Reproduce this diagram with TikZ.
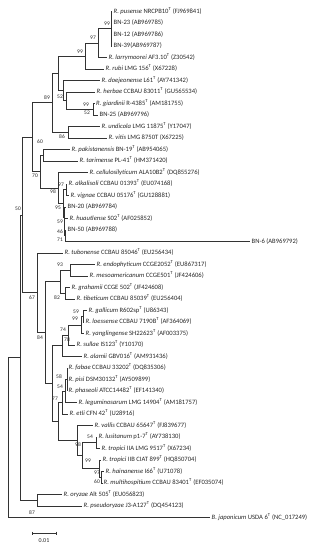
\documentclass[tikz,border=0pt]{standalone}
\usepackage{fontspec}
\setmainfont{Carlito}
\newcommand{\Ty}{\textsuperscript{T}}
\begin{document}
\begin{tikzpicture}[x=1pt,y=-1pt,
  br/.style={draw=black!80,line width=0.75pt},
  leaf/.style={anchor=west,inner xsep=1.5pt,inner ysep=0pt,text height=4.6pt,text depth=1.4pt,font=\fontsize{6.6}{7}\selectfont,text=black!85},
  bs/.style={inner sep=0pt,font=\fontsize{5.5}{6}\selectfont,text=black!85}]
\useasboundingbox (0,0) rectangle (315,550);
% internal nodes
\coordinate (N1) at (111,28.75);
\coordinate (N2) at (98,43.1);
\coordinate (N3) at (85,56.1);
\coordinate (N6) at (93,109.25);
\coordinate (N5) at (66,100.6);
\coordinate (N4) at (63,90.6);
\coordinate (NX) at (58,73.3);
\coordinate (N7) at (68,132.25);
\coordinate (N8) at (52,102.8);
\coordinate (N9) at (43,155.25);
\coordinate (N13) at (66,189.75);
\coordinate (C1) at (65,235.75);
\coordinate (C2) at (64.5,227.1);
\coordinate (C3) at (64,217.1);
\coordinate (C4) at (63,203.4);
\coordinate (N17) at (58,188);
\coordinate (N18) at (40,171.6);
\coordinate (N11) at (32,137.2);
\coordinate (N20) at (70,270.25);
\coordinate (N21) at (65,293.25);
\coordinate (N22) at (60,281.75);
\coordinate (N23) at (83,316.25);
\coordinate (N24) at (81,324.9);
\coordinate (N25) at (68,334.9);
\coordinate (N26) at (62,345.7);
\coordinate (N30) at (67,379.5);
\coordinate (N31) at (65,391);
\coordinate (N32) at (62,402.5);
\coordinate (N34) at (96,442.75);
\coordinate (N36) at (101.5,477.25);
\coordinate (N37) at (99,468.6);
\coordinate (N38) at (82,455.7);
\coordinate (N39) at (77,440.6);
\coordinate (N40) at (58,421.5);
\coordinate (N33) at (52,383.6);
\coordinate (N28) at (45,332.7);
\coordinate (B1) at (37,292.8);
\coordinate (N41) at (37,500.25);
\coordinate (M50) at (22,215);
\coordinate (P) at (20,357.6);
\coordinate (R0) at (8,437.5);
% leaves
\node[leaf] (t0) at (112,11.5) {\textit{R. pusense} NRCPB10\Ty{} (FJ969841)};
\node[leaf] (t1) at (112,23) {BN-23 (AB969785)};
\node[leaf] (t2) at (112,34.5) {BN-12 (AB969786)};
\node[leaf] (t3) at (112,46) {BN-39(AB969787)};
\node[leaf] (t4) at (107,57.5) {\textit{R. larrymoorei} AF3.10\Ty{} (Z30542)};
\node[leaf] (t5) at (104,69) {\textit{R. rubi} LMG 156\Ty{} (X67228)};
\node[leaf] (t6) at (100,80.5) {\textit{R. doejeonense} L61\Ty{} (AY741342)};
\node[leaf] (t7) at (95,92) {\textit{R. herbae} CCBAU 83011\Ty{} (GU565534)};
\node[leaf] (t8) at (94.5,103.5) {\textit{R. giardinii} R-4385\Ty{} (AM181755)};
\node[leaf] (t9) at (98,115) {BN-25 (AB969796)};
\node[leaf] (t10) at (100,126.5) {\textit{R. undicola} LMG 11875\Ty{} (Y17047)};
\node[leaf] (t11) at (107,138) {\textit{R. vitis} LMG 8750T (X67225)};
\node[leaf] (t12) at (70,149.5) {\textit{R. pakistanensis} BN-19\Ty{} (AB954065)};
\node[leaf] (t13) at (78,161) {\textit{R. tarimense} PL-41\Ty{} (HM371420)};
\node[leaf] (t14) at (88,172.5) {\textit{R. cellulosilyticum} ALA10B2\Ty{} (DQ855276)};
\node[leaf] (t15) at (67,184) {\textit{R. alkalisoli} CCBAU 01393\Ty{} (EU074168)};
\node[leaf] (t16) at (69,195.5) {\textit{R. vignae} CCBAU 05176\Ty{} (GU128881)};
\node[leaf] (t17) at (66,207) {BN-20 (AB969784)};
\node[leaf] (t18) at (68,218.5) {\textit{R. huautlense} S02\Ty{} (AF025852)};
\node[leaf] (t19) at (66,230) {BN-50 (AB969788)};
\node[leaf] (t20) at (250,241.5) {BN-6 (AB969792)};
\node[leaf] (t21) at (63,253) {\textit{R. tubonense} CCBAU 85046\Ty{} (EU256434)};
\node[leaf] (t22) at (95,264.5) {\textit{R. endophyticum} CCGE2052\Ty{} (EU867317)};
\node[leaf] (t23) at (88,276) {\textit{R. mesoamericanum} CCGE501\Ty{} (JF424606)};
\node[leaf] (t24) at (70,287.5) {\textit{R. grahamii} CCGE 502\Ty{} (JF424608)};
\node[leaf] (t25) at (75,299) {\textit{R. tibeticum} CCBAU 85039\Ty{} (EU256404)};
\node[leaf] (t26) at (87,310.5) {\textit{R. gallicum} R602sp\Ty{} (U86343)};
\node[leaf] (t27) at (84,322) {\textit{R. loessense} CCBAU 7190B\Ty{} (AF364069)};
\node[leaf] (t28) at (84,333.5) {\textit{R. yanglingense} SH22623\Ty{} (AF003375)};
\node[leaf] (t29) at (75,345) {\textit{R. sullae} IS123\Ty{} (Y10170)};
\node[leaf] (t30) at (82,356.5) {\textit{R. alamii} GBV016\Ty{} (AM931436)};
\node[leaf] (t31) at (67,368) {\textit{R. fabae} CCBAU 33202\Ty{} (DQ835306)};
\node[leaf] (t32) at (67,379.5) {\textit{R. pisi} DSM30132\Ty{} (AY509899)};
\node[leaf] (t33) at (67,391) {\textit{R. phaseoli} ATCC14482\Ty{} (EF141340)};
\node[leaf] (t34) at (77,402.5) {\textit{R. leguminosarum} LMG 14904\Ty{} (AM181757)};
\node[leaf] (t35) at (68,414) {\textit{R. etli} CFN 42\Ty{} (U28916)};
\node[leaf] (t36) at (93,425.5) {\textit{R. vallis} CCBAU 65647\Ty{} (FJ839677)};
\node[leaf] (t37) at (97,437) {\textit{R. lusitanum} p1-7\Ty{} (AY738130)};
\node[leaf] (t38) at (100,448.5) {\textit{R. tropici} IIA LMG 9517\Ty{} (X67234)};
\node[leaf] (t39) at (101,460) {\textit{R. tropici} IIB CIAT 899\Ty{} (HQ850704)};
\node[leaf] (t40) at (104,471.5) {\textit{R. hainanense} I66\Ty{} (U71078)};
\node[leaf] (t41) at (102,483) {\textit{R. multihospitium} CCBAU 83401\Ty{} (EF035074)};
\node[leaf] (t42) at (62,494.5) {\textit{R. oryzae} Alt 505\Ty{} (EU056823)};
\node[leaf] (t43) at (82,506) {\textit{R. pseudoryzae} J3-A127\Ty{} (DQ454123)};
\node[leaf] (t44) at (210,517.5) {\textit{B. japonicum} USDA 6\Ty{} (NC\_017249)};
% branches
\foreach \p/\c in {N1/t0.west,N1/t1.west,N1/t2.west,N1/t3.west,N2/N1,N2/t4.west,N3/N2,N3/t5.west,
  NX/N3,NX/N4,N4/t6.west,N4/N5,N5/t7.west,N5/N6,N6/t8.west,N6/t9.west,N7/t10.west,N7/t11.west,
  N8/NX,N8/N7,N9/t12.west,N9/t13.west,N13/t15.west,N13/t16.west,C1/t19.west,C1/t20.west,
  C2/t18.west,C2/C1,C3/t17.west,C3/C2,C4/N13,C4/C3,N17/t14.west,N17/C4,N18/N9,N18/N17,
  N11/N8,N11/N18,M50/N11,M50/B1,B1/t21.west,B1/N28,N28/N22,N28/N33,N22/N20,N22/N21,
  N20/t22.west,N20/t23.west,N21/t24.west,N21/t25.west,N33/N26,N33/N40,N26/N25,N26/t30.west,
  N25/N24,N25/t29.west,N24/N23,N24/t28.west,N23/t26.west,N23/t27.west,N40/N32,N40/N39,
  N32/N31,N32/t35.west,N31/N30,N31/t34.west,N30/t31.west,N30/t32.west,N30/t33.west,
  N39/t36.west,N39/N38,N38/N34,N38/N37,N34/t37.west,N34/t38.west,N37/t39.west,N37/N36,
  N36/t40.west,N36/t41.west,N41/t42.west,N41/t43.west,P/M50,P/N41,R0/P,R0/t44.west}
  {\draw[br] (\p) |- (\c);}
% bootstrap values
\node[bs] (b1) at (107,24) {99};
\node[bs] (b2) at (93,38) {97};
\node[bs] (b3) at (80,52) {99};
\node[bs] (b4) at (47,98) {89};
\node[bs] (b5) at (60,97) {52};
\node[bs] (b6) at (86,105) {99};
\node[bs] (b7) at (87,113) {52};
\node[bs] (b8) at (62,137) {86};
\node[bs] (b9) at (40,142) {60};
\node[bs] (b10) at (35,176) {70};
\node[bs] (b11) at (61,185) {97};
\node[bs] (b12) at (53,192) {98};
\node[bs] (b13) at (58,208) {95};
\node[bs] (b14) at (60,222) {59};
\node[bs] (b15) at (60,232) {46};
\node[bs] (b16) at (60,240) {71};
\node[bs] (b17) at (18,209) {50};
\node[bs] (b18) at (60,265) {93};
\node[bs] (b19) at (32,298) {67};
\node[bs] (b20) at (57,298) {82};
\node[bs] (b21) at (76,312) {59};
\node[bs] (b22) at (75,319) {99};
\node[bs] (b23) at (63,330) {74};
\node[bs] (b24) at (67,340) {78};
\node[bs] (b25) at (40,338) {84};
\node[bs] (b26) at (59,377) {58};
\node[bs] (b27) at (60,387) {54};
\node[bs] (b28) at (55,399) {77};
\node[bs] (b29) at (90,437) {54};
\node[bs] (b30) at (78,445) {98};
\node[bs] (b31) at (88,461) {99};
\node[bs] (b32) at (97,473) {97};
\node[bs] (b33) at (97,482) {60};
\node[bs] (b34) at (32,513) {87};
% scale bar
\coordinate (s1) at (32,533);
\coordinate (s2) at (56,533);
\draw[br] (s1) -- (s2);
\draw[br] ([yshift=1.5pt]s1) -- ([yshift=-1.5pt]s1);
\draw[br] ([yshift=1.5pt]s2) -- ([yshift=-1.5pt]s2);
\node[bs,font=\fontsize{6}{7}\selectfont] (sl) at (44,541) {0.01};
\end{tikzpicture}
\end{document}
